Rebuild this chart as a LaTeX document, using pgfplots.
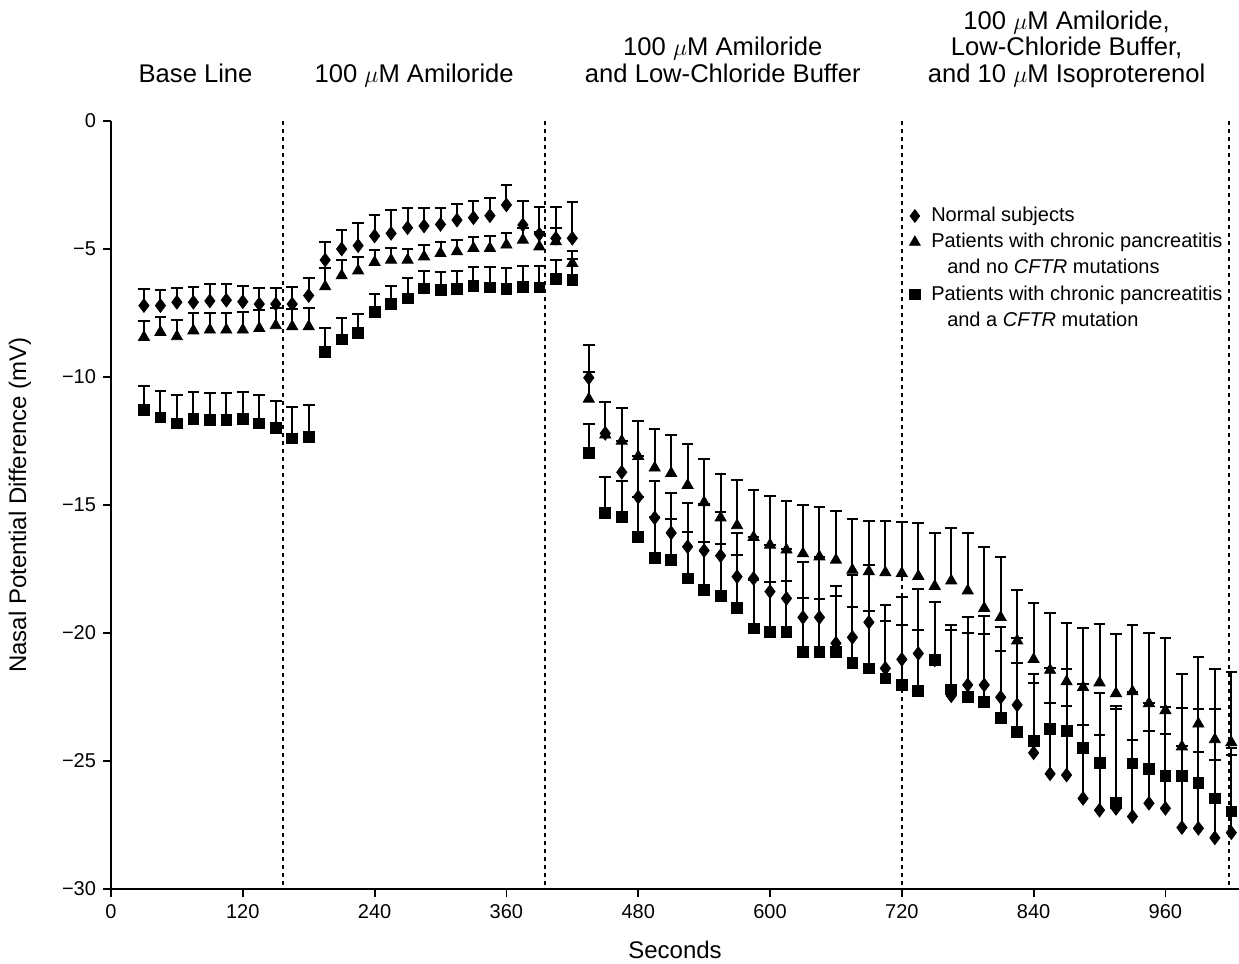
\documentclass[border=0pt]{standalone}
\usepackage{fontspec}
\setmainfont{Liberation Sans}
\usepackage{pgfplots}
\usepackage{pgfplotstable}
\pgfplotsset{compat=1.18}

% x = seconds, y = mean potential (mV), e = upper error bar
\pgfplotstableread{
x y e
30 -7.21 0.65
45 -7.21 0.61
60 -7.08 0.57
75 -7.08 0.61
90 -7.03 0.65
105 -7.00 0.63
120 -7.06 0.63
135 -7.15 0.62
150 -7.15 0.64
165 -7.15 0.68
180 -6.82 0.67
195 -5.43 0.72
210 -5.00 0.74
225 -4.87 0.90
240 -4.49 0.82
255 -4.39 0.91
270 -4.17 0.76
285 -4.10 0.69
300 -4.04 0.63
315 -3.87 0.63
330 -3.78 0.65
345 -3.70 0.68
360 -3.28 0.78
375 -4.06 0.95
390 -4.42 1.07
405 -4.58 1.23
420 -4.58 1.43
435 -10.03 1.28
450 -12.20 1.21
465 -13.72 1.22
480 -14.69 1.59
495 -15.50 1.44
510 -16.09 1.55
525 -16.63 1.69
540 -16.78 1.83
555 -16.98 1.72
570 -17.80 1.70
585 -17.87 1.61
600 -18.38 1.82
615 -18.65 1.92
630 -19.39 2.15
645 -19.39 2.37
660 -20.40 1.86
675 -20.17 2.44
690 -19.58 2.24
705 -21.38 2.47
720 -21.03 2.45
735 -20.80 2.51
750 -21.05 2.25
765 -22.45 2.76
780 -22.03 2.67
795 -22.03 2.69
810 -22.51 2.76
825 -22.81 2.60
840 -24.68 2.71
855 -25.50 2.78
870 -25.55 2.71
885 -26.46 2.87
900 -26.92 2.94
915 -26.85 3.88
930 -27.17 2.99
945 -26.65 2.82
960 -26.85 2.89
975 -27.60 3.20
990 -27.63 2.97
1005 -28.00 3.04
1020 -27.80 3.03
}\normal

\pgfplotstableread{
x y e
30 -8.45 0.65
45 -8.25 0.61
60 -8.42 0.65
75 -8.19 0.68
90 -8.16 0.67
105 -8.16 0.67
120 -8.16 0.70
135 -8.10 0.72
150 -7.99 0.67
165 -8.03 0.67
180 -8.03 0.74
195 -6.47 0.72
210 -6.04 0.61
225 -5.85 0.55
240 -5.52 0.48
255 -5.43 0.46
270 -5.43 0.43
285 -5.30 0.46
300 -5.17 0.43
315 -5.10 0.45
330 -4.97 0.45
345 -4.97 0.48
360 -4.84 0.45
375 -4.65 0.48
390 -4.91 0.56
405 -4.71 0.52
420 -5.56 0.49
435 -10.86 1.07
450 -12.26 1.27
465 -12.50 1.30
480 -13.10 1.39
495 -13.55 1.52
510 -13.76 1.48
525 -14.23 1.63
540 -14.90 1.70
555 -15.50 1.70
570 -15.80 1.77
585 -16.26 1.84
600 -16.56 1.93
615 -16.75 1.90
630 -16.90 1.90
645 -17.02 1.93
660 -17.15 1.91
675 -17.54 1.98
690 -17.60 1.99
705 -17.64 2.03
720 -17.67 2.02
735 -17.78 2.06
750 -18.17 2.09
765 -17.96 2.05
780 -18.35 2.24
795 -19.03 2.40
810 -19.39 2.35
825 -20.30 1.97
840 -21.03 2.21
855 -21.45 2.22
870 -21.90 2.28
885 -22.12 2.30
900 -21.94 2.28
915 -22.36 2.31
930 -22.29 2.60
945 -22.75 2.74
960 -23.03 2.82
975 -24.44 2.84
990 -23.55 2.60
1005 -24.16 2.74
1020 -24.28 2.77
}\nocftr

\pgfplotstableread{
x y e
30 -11.30 0.96
45 -11.58 1.05
60 -11.81 1.11
75 -11.64 1.07
90 -11.68 1.04
105 -11.68 1.04
120 -11.64 1.07
135 -11.81 1.11
150 -12.00 1.08
165 -12.40 1.22
180 -12.33 1.24
195 -9.01 0.94
210 -8.53 0.85
225 -8.29 0.74
240 -7.47 0.71
255 -7.15 0.72
270 -6.93 0.78
285 -6.54 0.69
300 -6.60 0.71
315 -6.57 0.72
330 -6.45 0.76
345 -6.50 0.81
360 -6.56 0.81
375 -6.47 0.82
390 -6.50 0.84
405 -6.17 0.74
420 -6.21 0.81
435 -12.98 1.13
450 -15.32 1.41
465 -15.48 1.40
480 -16.25 1.56
495 -17.06 1.61
510 -17.16 1.63
525 -17.87 1.82
540 -18.32 1.86
555 -18.54 2.00
570 -19.02 2.07
585 -19.82 1.89
600 -19.95 1.96
615 -19.97 2.02
630 -20.75 2.13
645 -20.73 2.06
660 -20.73 2.58
675 -21.18 2.21
690 -21.38 2.24
705 -21.77 2.25
720 -22.03 2.34
735 -22.26 2.36
750 -21.05 2.27
765 -22.20 2.30
780 -22.51 2.52
795 -22.68 2.64
810 -23.33 2.64
825 -23.86 2.68
840 -24.20 2.61
855 -23.76 2.38
870 -23.83 2.41
885 -24.50 2.51
900 -25.07 2.71
915 -26.65 3.81
930 -25.09 2.79
945 -25.32 2.60
960 -25.59 2.69
975 -25.59 2.67
990 -25.87 2.89
1005 -26.46 3.48
1020 -26.97 2.47
}\cftr

\pgfplotsset{
  ebar/.style={only marks, black, forget plot,
    error bars/y dir=plus, error bars/y explicit,
    error bars/error bar style={line width=1pt, black},
    error bars/error mark options={rotate=90, mark size=2.9pt, line width=1pt, black}},
}

\begin{document}
\begin{tikzpicture}
\begin{axis}[name=ax,
  width=564pt, height=384pt, scale only axis,
  xmin=0, xmax=1027, ymin=-30, ymax=0,
  clip=false,
  axis lines=left,
  axis line style={-, line width=1pt},
  xtick={0,120,...,960},
  xticklabels={0,120,240,360,480,600,720,840,960},
  ytick={-30,-25,...,0},
  yticklabels={−30,−25,−20,−15,−10,−5,0},
  tick align=outside, major tick length=4pt,
  tick style={line width=0.9pt, black},
  ticklabel style={font=\fontsize{10}{12}\selectfont},
  xlabel={Seconds},
  ylabel={Nasal Potential Difference (mV)},
  label style={font=\fontsize{12}{14}\selectfont},
  xlabel style={at={([yshift=-30.5pt]axis description cs:0.5,0)}, anchor=center},
  ylabel style={at={([xshift=-45.5pt]axis description cs:0,0.5)}, anchor=center},
  legend image code/.code={\draw[#1] plot coordinates {(0pt,0pt)};},
  legend style={at={(axis cs:727,-3.34)}, anchor=north west,
    draw=none, fill=none, inner sep=0pt, outer sep=0pt,
    row sep=3.6pt, column sep=5.5pt,
    font=\fontsize{10}{12}\selectfont,
    nodes={inner sep=0pt, text height=7.5pt, text depth=2pt}},
  legend cell align=left,
]
% phase boundaries
\addplot[forget plot, black, line width=1pt, dash pattern=on 2pt off 2pt] coordinates {(157,0) (157,-30)};
\addplot[forget plot, black, line width=1pt, dash pattern=on 2pt off 2pt] coordinates {(395,0) (395,-30)};
\addplot[forget plot, black, line width=1pt, dash pattern=on 2pt off 2pt] coordinates {(720,0) (720,-30)};
\addplot[forget plot, black, line width=1pt, dash pattern=on 2pt off 2pt] coordinates {(1018,0) (1018,-30)};

\addplot[ebar, mark=square*, mark size=2.7pt] table[x=x, y=y, y error=e] {\cftr};
\addplot[ebar, mark=triangle*, mark size=3.2pt] table[x=x, y=y, y error=e] {\nocftr};
\addplot[ebar, mark=diamond*, mark size=3.4pt] table[x=x, y=y, y error=e] {\normal};

\addlegendimage{only marks, black, mark=diamond*, mark size=3.2pt}
\addlegendimage{only marks, black, mark=triangle*, mark size=3.1pt}
\addlegendimage{empty legend}
\addlegendimage{only marks, black, mark=square*, mark size=2.6pt}
\addlegendimage{empty legend}
\legend{Normal subjects, Patients with chronic pancreatitis, \hspace{8pt}and no \textit{CFTR} mutations, Patients with chronic pancreatitis, \hspace{8pt}and a \textit{CFTR} mutation}

% phase titles
\begin{scope}[every node/.style={anchor=base, font=\fontsize{12.8}{15}\selectfont, inner sep=0pt}]
\node at (axis cs:77,1.52) {Base Line};
\node at (axis cs:276,1.52) {100 $\mu$M Amiloride};
\node at (axis cs:557,2.54) {100 $\mu$M Amiloride};
\node at (axis cs:557,1.52) {and Low-Chloride Buffer};
\node at (axis cs:870,3.59) {100 $\mu$M Amiloride,};
\node at (axis cs:870,2.54) {Low-Chloride Buffer,};
\node at (axis cs:870,1.52) {and 10 $\mu$M Isoproterenol};
\end{scope}
\end{axis}
\pgfresetboundingbox
\path[use as bounding box] ([shift={(-55.5pt,-37pt)}]ax.south west) rectangle ([shift={(0pt,60.5pt)}]ax.north east);
\end{tikzpicture}
\end{document}
